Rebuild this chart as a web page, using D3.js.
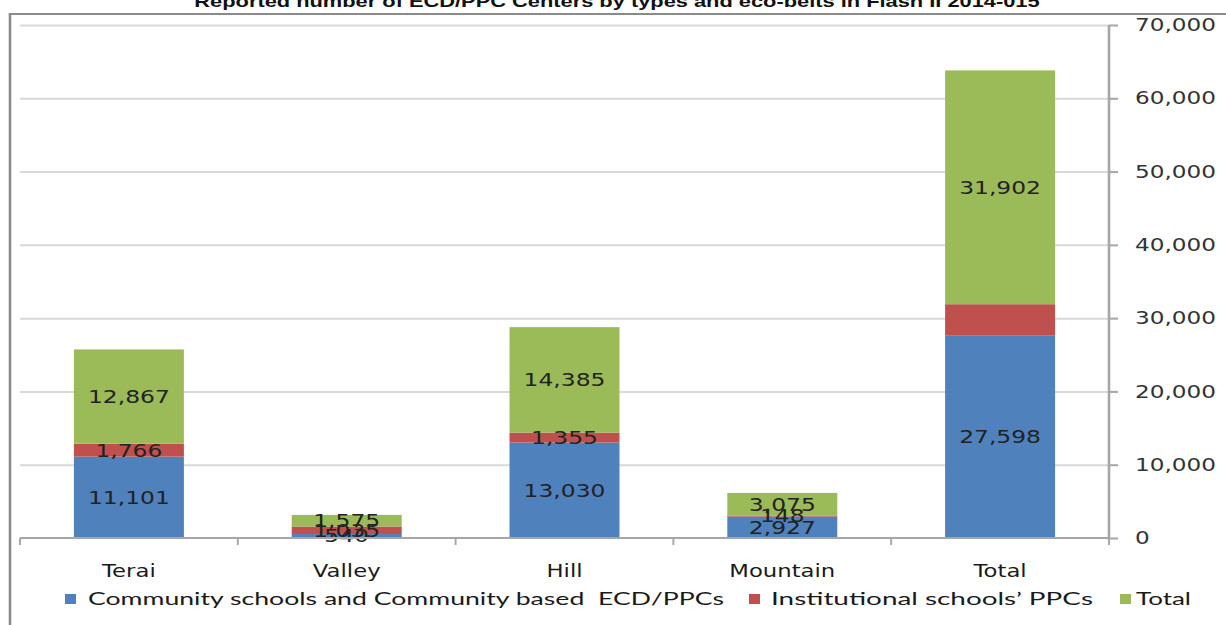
<!DOCTYPE html>
<html>
<head>
<meta charset="utf-8">
<script src="https://cdn.jsdelivr.net/npm/d3@7"></script>
<style>
  html, body { margin: 0; padding: 0; background: #fff; overflow: hidden; }
  svg { display: block; }
</style>
</head>
<body>
<svg id="chart"></svg>
<script>
const categories = ["Terai", "Valley", "Hill", "Mountain", "Total"];
const community = [11101, 540, 13030, 2927, 27598];
const institutional = [1766, 1035, 1355, 148, 4304];
const totals = [12867, 1575, 14385, 3075, 31902];
const seriesNames = [
  "Community schools and Community based  ECD/PPCs",
  "Institutional schools\u2019 PPCs",
  "Total"
];
const yTicks = [0, 10000, 20000, 30000, 40000, 50000, 60000, 70000];
const titleText = "Reported number of ECD/PPC Centers by types and eco-belts in Flash II 2014-015";
// labels the original chart leaves out
const hiddenLabels = ["1|Total"];

const colors = ["#4f81bd", "#c0504d", "#9bbb59"];

// the picture is stretched sideways, so draw narrow and let the viewBox widen it
const sx = 1.3;
const width = 1226;
const height = 625;
const innerW = width / sx;

const svg = d3.select("#chart")
  .attr("width", width)
  .attr("height", height)
  .attr("viewBox", `0 0 ${innerW} ${height}`)
  .attr("preserveAspectRatio", "none");

const plot = { left: 20 / sx, right: 1109 / sx, top: 25, bottom: 538 };

// frame
svg.append("rect")
  .attr("x", 10 / sx)
  .attr("y", 14)
  .attr("width", innerW + 20)
  .attr("height", height)
  .attr("fill", "none")
  .attr("stroke", "#8a8a8a")
  .attr("stroke-width", 2);

svg.append("text")
  .attr("x", 617 / sx)
  .attr("y", 7)
  .attr("text-anchor", "middle")
  .style("font-family", "'Liberation Sans', Arial, sans-serif")
  .style("font-weight", "bold")
  .style("font-size", "16.8px")
  .attr("fill", "#111")
  .text(titleText);

const x = d3.scaleBand()
  .domain(categories)
  .range([plot.left, plot.right])
  .paddingInner(0.495)
  .paddingOuter(0.2475);

const y = d3.scaleLinear()
  .domain([0, 70000])
  .range([plot.bottom, plot.top]);

// gridlines
svg.append("g")
  .attr("class", "grid")
  .attr("transform", `translate(${plot.right},0)`)
  .call(d3.axisRight(y).tickValues(yTicks.slice(1)).tickFormat("").tickSize(-(plot.right - plot.left)))
  .call(g => g.select(".domain").remove())
  .call(g => g.selectAll("line").attr("stroke", "#d9d9d9").attr("stroke-width", 2));

// stacked bars
const rows = categories.map((c, i) => ({
  category: c,
  s0: community[i],
  s1: institutional[i],
  s2: totals[i]
}));
const stack = d3.stack().keys(["s0", "s1", "s2"])(rows);

const layers = svg.append("g").selectAll("g")
  .data(stack)
  .join("g")
  .attr("fill", (d, i) => colors[i]);

layers.selectAll("rect")
  .data(d => d)
  .join("rect")
  .attr("x", d => x(d.data.category))
  .attr("width", x.bandwidth())
  .attr("y", d => y(d[1]))
  .attr("height", d => y(d[0]) - y(d[1]));

// value labels
const fmt = d3.format(",");
stack.forEach((layer, li) => {
  svg.append("g").selectAll("text")
    .data(layer.filter(d => !hiddenLabels.includes(`${li}|${d.data.category}`)))
    .join("text")
    .attr("x", d => x(d.data.category) + x.bandwidth() / 2)
    .attr("y", d => y((d[0] + d[1]) / 2))
    .attr("dy", "0.36em")
    .attr("text-anchor", "middle")
    .style("font-family", "'DejaVu Sans', Verdana, sans-serif")
    .style("font-size", "18px")
    .attr("fill", "#222")
    .text(d => fmt(d[1] - d[0]));
});

// baseline and category ticks
svg.append("line")
  .attr("x1", plot.left)
  .attr("x2", plot.right)
  .attr("y1", plot.bottom)
  .attr("y2", plot.bottom)
  .attr("stroke", "#a6a6a6")
  .attr("stroke-width", 2);

svg.append("g").selectAll("line")
  .data(d3.range(categories.length + 1))
  .join("line")
  .attr("x1", i => plot.left + i * x.step())
  .attr("x2", i => plot.left + i * x.step())
  .attr("y1", plot.bottom)
  .attr("y2", plot.bottom + 7)
  .attr("stroke", "#a6a6a6")
  .attr("stroke-width", 1.5);

svg.append("g").selectAll("text")
  .data(categories)
  .join("text")
  .attr("x", d => x(d) + x.bandwidth() / 2)
  .attr("y", 577)
  .attr("text-anchor", "middle")
  .style("font-family", "'DejaVu Sans', Verdana, sans-serif")
  .style("font-size", "17.5px")
  .attr("fill", "#1a1a1a")
  .text(d => d);

// right value axis
svg.append("g")
  .attr("transform", `translate(${plot.right},0)`)
  .call(d3.axisRight(y).tickValues(yTicks).tickFormat(fmt).tickSize(9 / sx).tickPadding(17 / sx))
  .call(g => g.select(".domain").attr("stroke", "#a6a6a6").attr("stroke-width", 2)
    .attr("d", `M0,${plot.top}V${plot.bottom + 2}`))
  .call(g => g.selectAll(".tick line").attr("stroke", "#a6a6a6").attr("stroke-width", 2))
  .call(g => g.selectAll(".tick text")
    .style("font-family", "'DejaVu Sans', Verdana, sans-serif")
    .style("font-size", "17.8px")
    .attr("fill", "#333"));

// legend
const legendItems = [
  { name: seriesNames[0], mark: 65, text: 88, len: 636 },
  { name: seriesNames[1], mark: 749, text: 771, len: 322 },
  { name: seriesNames[2], mark: 1120, text: 1136, len: 55 }
];
const legend = svg.append("g");
legendItems.forEach((d, i) => {
  legend.append("rect")
    .attr("x", d.mark / sx)
    .attr("y", 594)
    .attr("width", 11 / sx)
    .attr("height", 10)
    .attr("fill", colors[i]);
  legend.append("text")
    .attr("x", d.text / sx)
    .attr("y", 605)
    .attr("textLength", d.len / sx)
    .attr("lengthAdjust", "spacingAndGlyphs")
    .style("white-space", "pre")
    .style("font-family", "Lato, 'Open Sans', sans-serif")
    .style("font-size", "18px")
    .attr("fill", "#1a1a1a")
    .text(d.name);
});
</script>
</body>
</html>
